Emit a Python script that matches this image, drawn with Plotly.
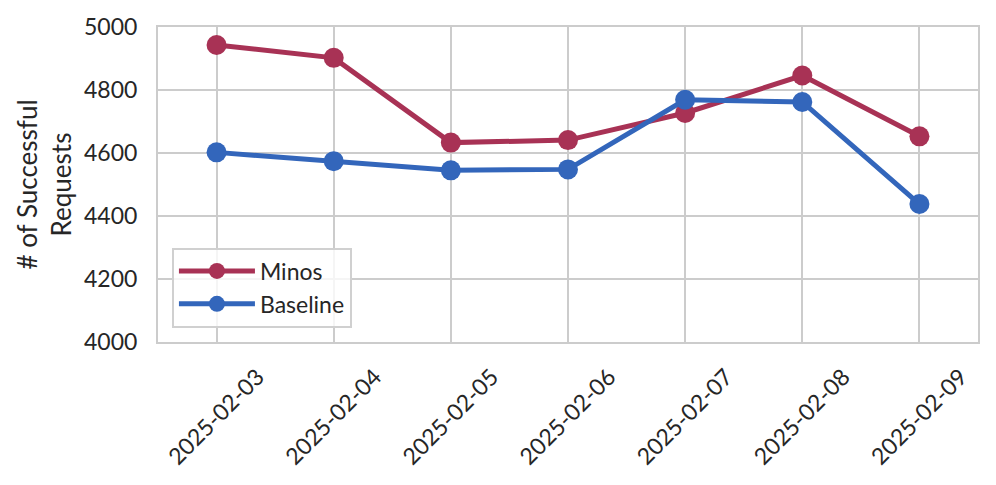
import plotly.graph_objects as go

dates = ['2025-02-03', '2025-02-04', '2025-02-05', '2025-02-06',
         '2025-02-07', '2025-02-08', '2025-02-09']
minos = [4943, 4902, 4633, 4641, 4727, 4846, 4653]
baseline = [4602, 4574, 4545, 4548, 4769, 4762, 4438]
y_ticks = [4000, 4200, 4400, 4600, 4800, 5000]

font_family = "Lato, DejaVu Sans, sans-serif"

fig = go.Figure()
fig.add_trace(go.Scatter(
    x=dates, y=minos, name='Minos', mode='lines+markers',
    line=dict(color='#a83255', width=5),
    marker=dict(size=20, color='#a83255')
))
fig.add_trace(go.Scatter(
    x=dates, y=baseline, name='Baseline', mode='lines+markers',
    line=dict(color='#3366bb', width=5),
    marker=dict(size=20, color='#3366bb')
))
# invisible trace so the label-only axis gets drawn
fig.add_trace(go.Scatter(
    x=dates, y=minos, xaxis='x2', mode='markers', showlegend=False,
    marker=dict(opacity=0), hoverinfo='skip'
))

# page body has an 8px default margin, so the figure is a bit smaller
fig.update_layout(
    width=980, height=469,
    margin=dict(l=150, r=10, t=19, b=135),
    plot_bgcolor='white', paper_bgcolor='white',
    font=dict(family=font_family, size=23, color='#262626'),
    showlegend=True,
    legend=dict(
        x=0.017, y=0.30, xanchor='left', yanchor='top',
        bgcolor='rgba(255,255,255,0.8)', bordercolor='#d0d0d0', borderwidth=2,
        font=dict(size=23), itemwidth=76, tracegroupgap=2
    ),
    xaxis=dict(
        type='category', categoryarray=dates, range=[-0.5, 6.5],
        automargin=False, showticklabels=False,
        showgrid=True, gridcolor='#cccccc', gridwidth=2,
        showline=True, linecolor='#cccccc', linewidth=2, mirror=True, ticks=''
    ),
    # rotated labels centred under the ticks: shift a label-only axis
    xaxis2=dict(
        type='category', categoryarray=dates, range=[-0.5 - 0.35, 6.5 - 0.35],
        overlaying='x', anchor='y', side='bottom', automargin=False,
        tickangle=-45, showgrid=False, showline=False, zeroline=False,
        ticks='', tickfont=dict(size=23), ticklabelstandoff=16
    ),
    yaxis=dict(
        range=[4000, 5000], tickvals=y_ticks, automargin=False,
        showgrid=True, gridcolor='#cccccc', gridwidth=2,
        showline=True, linecolor='#cccccc', linewidth=2, mirror=True,
        ticks='', tickfont=dict(size=23), zeroline=False, ticklabelstandoff=14,
        title=dict(text='# of Successful<br>Requests', font=dict(size=26), standoff=5)
    )
)

fig.write_html("out.html")
